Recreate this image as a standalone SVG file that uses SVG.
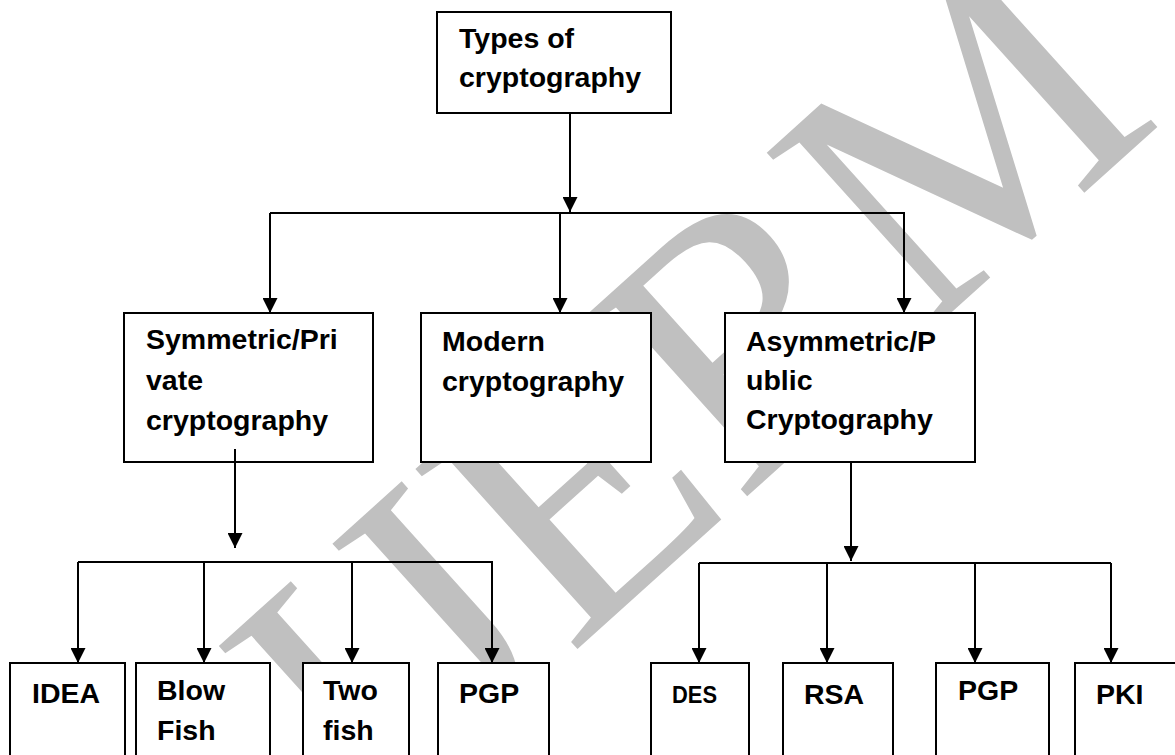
<svg xmlns="http://www.w3.org/2000/svg" width="1175" height="755" viewBox="0 0 1175 755">
  <style>
    .box { fill: #ffffff; stroke: #000000; stroke-width: 2; }
    .lbl { font-family: "Liberation Sans", Arial, sans-serif; font-weight: bold; font-size: 28.5px; fill: #000000; }
    .small { font-size: 24.5px; }
    .wire { fill: none; stroke: #000000; stroke-width: 2; }
    .wm { font-family: "Liberation Serif", "Times New Roman", serif; font-size: 370px; fill: #c0c0c0; }
  </style>
  <defs>
    <marker id="arr" viewBox="0 0 15 15" refX="15" refY="7.5" markerWidth="15" markerHeight="15" markerUnits="userSpaceOnUse" orient="auto">
      <path d="M0,0 L15,7.5 L0,15 z" fill="#000000"/>
    </marker>
  </defs>
  <rect x="0" y="0" width="1175" height="755" fill="#ffffff"/>

  <g id="watermark">
    <text class="wm" transform="translate(371,835) rotate(-42)">IJERM</text>
  </g>

  <g id="node-types">
    <rect class="box" x="437" y="12" width="234" height="101"/>
    <text class="lbl" x="459" y="48">Types of</text>
    <text class="lbl" x="459" y="87">cryptography</text>
  </g>

  <g id="node-symmetric">
    <rect class="box" x="124" y="313" width="249" height="149"/>
    <text class="lbl" x="146" y="349">Symmetric/Pri</text>
    <text class="lbl" x="146" y="390">vate</text>
    <text class="lbl" x="146" y="430">cryptography</text>
  </g>

  <g id="node-modern">
    <rect class="box" x="421" y="313" width="230" height="149"/>
    <text class="lbl" x="442" y="351">Modern</text>
    <text class="lbl" x="442" y="391">cryptography</text>
  </g>

  <g id="node-asymmetric">
    <rect class="box" x="725" y="313" width="250" height="149"/>
    <text class="lbl" x="746" y="351">Asymmetric/P</text>
    <text class="lbl" x="746" y="390">ublic</text>
    <text class="lbl" x="746" y="429">Cryptography</text>
  </g>

  <g id="node-idea">
    <rect class="box" x="10" y="663" width="115" height="100"/>
    <text class="lbl" x="32" y="703">IDEA</text>
  </g>
  <g id="node-blowfish">
    <rect class="box" x="136" y="663" width="134" height="100"/>
    <text class="lbl" x="157" y="700">Blow</text>
    <text class="lbl" x="157" y="740">Fish</text>
  </g>
  <g id="node-twofish">
    <rect class="box" x="303" y="663" width="106" height="100"/>
    <text class="lbl" x="323" y="700">Two</text>
    <text class="lbl" x="323" y="740">fish</text>
  </g>
  <g id="node-pgp1">
    <rect class="box" x="438" y="663" width="111" height="100"/>
    <text class="lbl" x="459" y="703">PGP</text>
  </g>

  <g id="node-des">
    <rect class="box" x="651" y="663" width="98" height="100"/>
    <text class="lbl small" x="672" y="703" textLength="45" lengthAdjust="spacingAndGlyphs">DES</text>
  </g>
  <g id="node-rsa">
    <rect class="box" x="783" y="663" width="110" height="100"/>
    <text class="lbl" x="804" y="704">RSA</text>
  </g>
  <g id="node-pgp2">
    <rect class="box" x="936" y="663" width="113" height="100"/>
    <text class="lbl" x="958" y="700">PGP</text>
  </g>
  <g id="node-pki">
    <rect class="box" x="1075" y="663" width="110" height="100"/>
    <text class="lbl" x="1096" y="704">PKI</text>
  </g>

  <g id="connectors">
    <path class="wire" d="M570,113 V212" marker-end="url(#arr)"/>
    <path class="wire" d="M270,213 H905"/>
    <path class="wire" d="M270,213 V313" marker-end="url(#arr)"/>
    <path class="wire" d="M560,213 V313" marker-end="url(#arr)"/>
    <path class="wire" d="M904,213 V313" marker-end="url(#arr)"/>

    <path class="wire" d="M235,449 V548" marker-end="url(#arr)"/>
    <path class="wire" d="M78,562 H493"/>
    <path class="wire" d="M78,562 V663" marker-end="url(#arr)"/>
    <path class="wire" d="M204,562 V663" marker-end="url(#arr)"/>
    <path class="wire" d="M352,562 V663" marker-end="url(#arr)"/>
    <path class="wire" d="M492,562 V663" marker-end="url(#arr)"/>

    <path class="wire" d="M851,462 V561" marker-end="url(#arr)"/>
    <path class="wire" d="M699,563 H1111"/>
    <path class="wire" d="M699,563 V663" marker-end="url(#arr)"/>
    <path class="wire" d="M827,563 V663" marker-end="url(#arr)"/>
    <path class="wire" d="M975,563 V663" marker-end="url(#arr)"/>
    <path class="wire" d="M1111,563 V663" marker-end="url(#arr)"/>
  </g>
</svg>
